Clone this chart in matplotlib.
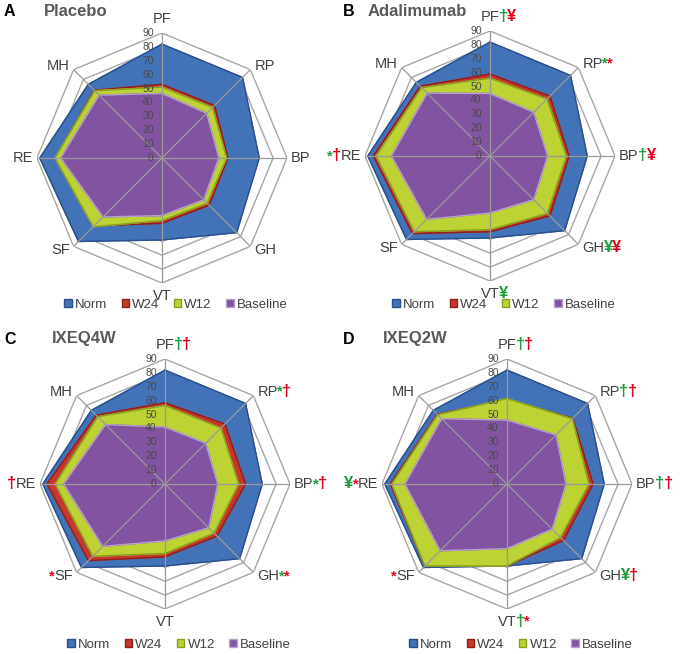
import numpy as np
import matplotlib
matplotlib.use("Agg")
import matplotlib.pyplot as plt
from matplotlib.patches import Patch
from matplotlib.transforms import offset_copy

plt.rcParams['font.family'] = ['Liberation Sans', 'DejaVu Sans']

categories = ['PF', 'RP', 'BP', 'GH', 'VT', 'SF', 'RE', 'MH']
series_names = ['Norm', 'W24', 'W12', 'Baseline']
ticks = [0, 10, 20, 30, 40, 50, 60, 70, 80, 90]

norm = [82, 82, 70, 76, 59, 85, 88, 75]

placebo_w24 = [53, 53.5, 47.5, 48, 47, 69, 76.5, 69]
placebo_w12 = [51, 51.5, 46.5, 46, 45, 70, 77, 68.5]
placebo_base = [46.5, 45.5, 41, 42.5, 41.5, 60, 73, 64]

ada_w24 = [59, 61, 57, 61, 54.5, 79, 84, 71]
ada_w12 = [56, 58, 55, 58.5, 53, 77, 82, 69.5]
ada_base = [45, 44.5, 41.5, 44.5, 41, 64.5, 71, 64]

q4w_w24 = [58.5, 61, 58, 53, 52.5, 78, 85, 70]
q4w_w12 = [56.5, 57, 53, 50, 50, 73.5, 79, 68.5]
q4w_base = [41, 41.5, 38, 44.5, 41, 63.5, 73, 60.5]

q2w_w24 = [61, 67, 62, 57.5, 59, 83.5, 84, 71]
q2w_w12 = [61.5, 66.5, 59, 54.5, 59, 83.5, 83, 70.5]
q2w_base = [46, 50, 42.5, 46, 46.5, 68, 73.5, 66.5]

G = '#1d9a3c'
R = '#e2001a'
# significance marks: category -> (prefix, suffix), pieces as (text, colour)
marks_placebo = {}
marks_ada = {'PF': ([], [('†', G), ('¥', R)]),
             'RP': ([], [('*', G), ('*', R)]),
             'BP': ([], [('†', G), ('¥', R)]),
             'GH': ([], [('¥', G), ('¥', R)]),
             'VT': ([], [('¥', G)]),
             'RE': ([('*', G), ('†', R)], [])}
marks_q4w = {'PF': ([], [('†', G), ('†', R)]),
             'RP': ([], [('*', G), ('†', R)]),
             'BP': ([], [('*', G), ('†', R)]),
             'GH': ([], [('*', G), ('*', R)]),
             'SF': ([('*', R)], []),
             'RE': ([('†', R)], [])}
marks_q2w = {'PF': ([], [('†', G), ('†', R)]),
             'RP': ([], [('†', G), ('†', R)]),
             'BP': ([], [('†', G), ('†', R)]),
             'GH': ([], [('¥', G), ('†', R)]),
             'VT': ([], [('†', G), ('*', R)]),
             'SF': ([('*', R)], []),
             'RE': ([('¥', G), ('*', R)], [])}

panels = [
    ('A', 'Placebo', [norm, placebo_w24, placebo_w12, placebo_base], marks_placebo),
    ('B', 'Adalimumab', [norm, ada_w24, ada_w12, ada_base], marks_ada),
    ('C', 'IXEQ4W', [norm, q4w_w24, q4w_w12, q4w_base], marks_q4w),
    ('D', 'IXEQ2W', [norm, q2w_w24, q2w_w12, q2w_base], marks_q2w),
]

fills = ['#4273b9', '#c8372d', '#bdd233', '#8253a0']
edges = ['#2a4f8a', '#8e1f1a', '#869f1e', '#b9a3cc']

W, H = 680, 654
RAD = 125
centers = [(162, 158), (490, 156), (165, 484), (507, 484)]
legend_y = [305, 305, 645, 645]

fig = plt.figure(figsize=(W / 100, H / 100), dpi=100)

theta = np.linspace(0, 2 * np.pi, len(categories), endpoint=False)
closed = np.append(theta, theta[0])
txt_col = '#404040'
FS = 10.5


def piece_size(s):
    return FS if s == '*' else FS + 1.5


def cat_label(ax, i, r, ha, va, name, prefix, suffix):
    t = ax.text(theta[i], r, name, ha=ha, va=va, fontsize=FS, color=txt_col,
                clip_on=False)
    prev = t
    for s, c in suffix:
        prev = ax.annotate(s, xy=(1, 0), xycoords=prev, xytext=(-0.5, 0),
                           textcoords='offset points', ha='left', va='bottom',
                           fontsize=piece_size(s), color=c, fontweight='bold')
    prev = t
    for s, c in reversed(prefix):
        prev = ax.annotate(s, xy=(0, 0), xycoords=prev, xytext=(0.5, 0),
                           textcoords='offset points', ha='right', va='bottom',
                           fontsize=piece_size(s), color=c, fontweight='bold')


label_pos = [(95, 'center', 'bottom'), (94, 'left', 'center'), (93, 'left', 'center'),
             (94, 'left', 'center'), (94, 'center', 'top'), (94, 'right', 'center'),
             (93, 'right', 'center'), (94, 'right', 'center')]

for k, (letter, title, data, marks) in enumerate(panels):
    cx, cy = centers[k]
    ax = fig.add_axes([(cx - RAD) / W, 1 - (cy + RAD) / H, 2 * RAD / W, 2 * RAD / H],
                      projection='polar')
    ax.set_theta_zero_location('N')
    ax.set_theta_direction(-1)
    ax.set_ylim(0, 90)
    ax.set_xticks([])
    ax.set_yticks([])
    ax.grid(False)
    ax.spines['polar'].set_visible(False)
    ax.patch.set_alpha(0)

    # octagon rings behind the areas
    for r in ticks[1:]:
        ax.plot(closed, [r] * len(closed), color='#a6a6a6', lw=1.0, zorder=1)

    for j, vals in enumerate(data):
        v = np.append(vals, vals[0])
        ax.fill(closed, v, color=fills[j], zorder=2 + j)
        ax.plot(closed, v, color=edges[j], lw=1.0, zorder=2 + j)

    # spokes on top
    for t in theta:
        ax.plot([t, t], [0, 90], color='#9a9a9a', lw=0.9, zorder=7)

    tr = offset_copy(ax.transData, fig=fig, x=-6, y=0, units='points')
    for r in ticks:
        ax.text(0, r, str(r), transform=tr, ha='right', va='center', fontsize=7.5,
                color='#4a4a4a', zorder=8, clip_on=False)

    for i, name in enumerate(categories):
        r, ha, va = label_pos[i]
        prefix, suffix = marks.get(name, ([], []))
        cat_label(ax, i, r, ha, va, name, prefix, suffix)

    lx = 4 if k % 2 == 0 else 343
    ty = 12 if k < 2 else 339
    tx = [44, 368, 52, 383][k]
    fig.text(lx / W, 1 - ty / H, letter, fontsize=11.5, fontweight='bold', color='black',
             va='center', ha='left')
    fig.text(tx / W, 1 - ty / H, title, fontsize=12, fontweight='bold', color='#595959',
             va='center', ha='left')

    handles = [Patch(facecolor=fills[j], edgecolor=edges[j], label=series_names[j])
               for j in range(4)]
    fig.legend(handles=handles, loc='center', ncol=4, frameon=False,
               bbox_to_anchor=((cx + 14) / W, 1 - legend_y[k] / H),
               fontsize=9.5, handlelength=0.55, handleheight=0.55, handletextpad=0.25,
               columnspacing=1.1, labelcolor=txt_col)

fig.savefig('out.png', dpi=100)
